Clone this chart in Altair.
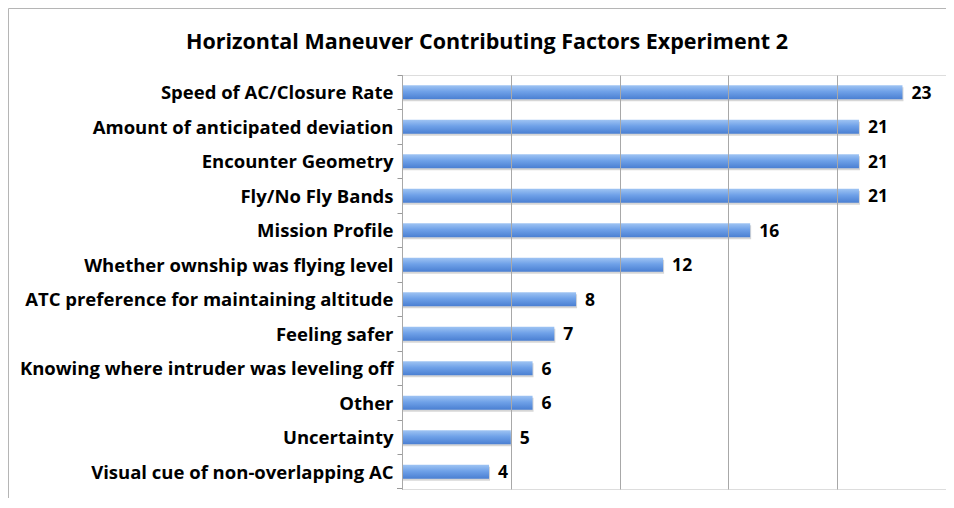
import altair as alt
import pandas as pd

categories = [
    "Speed of AC/Closure Rate",
    "Amount of anticipated deviation",
    "Encounter Geometry",
    "Fly/No Fly Bands",
    "Mission Profile",
    "Whether ownship was flying level",
    "ATC preference for maintaining altitude",
    "Feeling safer",
    "Knowing where intruder was leveling off",
    "Other",
    "Uncertainty",
    "Visual cue of non-overlapping AC",
]
values = [23, 21, 21, 21, 16, 12, 8, 7, 6, 6, 5, 4]
grid_values = [0, 5, 10, 15, 20, 25]
title_text = "Horizontal Maneuver Contributing Factors Experiment 2"

df = pd.DataFrame({"factor": categories, "count": values})
title_df = pd.DataFrame({"title": [title_text]})

FONT = "Open Sans"
W, H = 544, 414

gradient = alt.Gradient(
    gradient="linear",
    x1=0, y1=0, x2=0, y2=1,
    stops=[
        alt.GradientStop(color="#9fc4f3", offset=0),
        alt.GradientStop(color="#6fa1e8", offset=0.45),
        alt.GradientStop(color="#4a7fd2", offset=1),
    ],
)

y_enc = alt.Y(
    "factor:N",
    sort=None,
    title=None,
    scale=alt.Scale(paddingInner=0, paddingOuter=0),
    axis=alt.Axis(
        bandPosition=0,
        tickSize=5,
        tickColor="#9a9a9a",
        domainColor="#9a9a9a",
        labelFont=FONT,
        labelFontSize=18.5,
        labelFontWeight="bold",
        labelColor="#000000",
        labelPadding=4,
        labelLimit=420,
        labelOffset=1,
        grid=False,
    ),
)
x_enc = alt.X(
    "count:Q",
    title=None,
    scale=alt.Scale(domain=[0, 25], nice=False),
    axis=alt.Axis(
        values=grid_values,
        labels=False,
        ticks=False,
        domain=False,
        grid=True,
        gridColor="#a8a8a8",
        gridWidth=1,
        zindex=1,
    ),
)

base = alt.Chart(df)

shadow = base.mark_bar(color="#000000", opacity=0.16, height=14, yOffset=2, xOffset=1).encode(
    y=y_enc, x=x_enc
)
bars = base.mark_bar(color=gradient, height=14).encode(y=y_enc, x=x_enc)
labels = base.mark_text(
    align="left", baseline="middle", dx=9, dy=1.5,
    font=FONT, fontSize=17.5, fontWeight="bold", color="#000000",
).encode(y=y_enc, x=x_enc, text="count:Q")

title = alt.Chart(title_df).mark_text(
    align="center", baseline="alphabetic",
    font=FONT, fontSize=21.5, fontWeight="bold", color="#000000",
).encode(x=alt.value(85), y=alt.value(-26.5), text="title:N")

# bottom tick of the category axis and outer frame lines (decoration)
bottom_tick = alt.Chart(title_df).mark_rule(color="#9a9a9a").encode(
    x=alt.value(-5), x2=alt.value(0), y=alt.value(H - 0.5)
)
frame_top = alt.Chart(title_df).mark_rule(color="#b5b5b5").encode(
    x=alt.value(-393.5), x2=alt.value(W), y=alt.value(-66.5)
)
frame_left = alt.Chart(title_df).mark_rule(color="#b5b5b5").encode(
    x=alt.value(-393.5), y=alt.value(-66.5), y2=alt.value(H + 9)
)

chart = (
    alt.layer(shadow, bars, labels, title, bottom_tick, frame_top, frame_left)
    .properties(
        width=W,
        height=H,
        autosize=alt.AutoSizeParams(type="none"),
        padding={"left": 394, "top": 67, "right": 0, "bottom": 9},
    )
    .configure_view(stroke=None)
    .configure(background="#ffffff")
)

chart.save("out.html", embed_options={"renderer": "svg", "actions": False})
